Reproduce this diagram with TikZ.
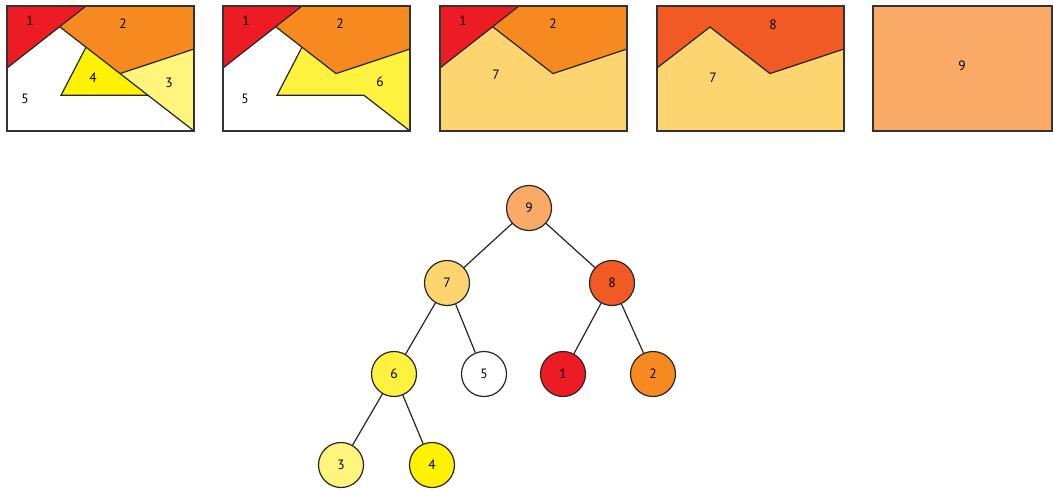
\documentclass[tikz,border=0pt]{standalone}
\usepackage{fontspec}
\setmainfont{PT Sans}
\definecolor{cA}{HTML}{ED1C24}
\definecolor{cB}{HTML}{F6891F}
\definecolor{cC}{HTML}{FFF47C}
\definecolor{cD}{HTML}{FFF200}
\definecolor{cF}{HTML}{FFF23F}
\definecolor{cG}{HTML}{FDD570}
\definecolor{cH}{HTML}{F15A24}
\definecolor{cI}{HTML}{F9AA66}
\begin{document}
\begin{tikzpicture}[x=1pt,y=-1pt,
  edgeln/.style={line width=1.2pt,draw=black!85},
  frame/.style={line width=1.2pt,draw=black!80},
  lbl/.style={font=\fontsize{13.5}{15}\selectfont,inner sep=0pt},
  tn/.style={circle,draw=black!85,line width=1.2pt,minimum size=45pt,inner sep=0pt,font=\fontsize{13.5}{15}\selectfont}]
\useasboundingbox (0,0) rectangle (1053,490);
% Panel 1
\begin{scope}
\fill[white] (7,6) rectangle (194,131);
\fill[cA] (7,6) -- (86,6) -- (60,27) -- (7,68) -- cycle;
\fill[cB] (86,6) -- (194,6) -- (194,49) -- (120,73.6) -- (60,27) -- cycle;
\fill[cC] (120,73.6) -- (194,49) -- (194,131) -- cycle;
\fill[cD] (86,47.2) -- (61,95.3) -- (148,95.3) -- cycle;
\draw[edgeln] (7,68) -- (86,6);
\draw[edgeln] (60,27) -- (194,131);
\draw[edgeln] (120,73.6) -- (194,49);
\draw[edgeln] (86,47.2) -- (61,95.3) -- (148,95.3);
\draw[frame] (7,6) rectangle (194,131);
\node[lbl] (p1a) at (30,21) {1};
\node[lbl] (p1b) at (123,24) {2};
\node[lbl] (p1c) at (169,83) {3};
\node[lbl] (p1d) at (93,78) {4};
\node[lbl] (p1e) at (25,99) {5};
\end{scope}
% Panel 2
\begin{scope}[xshift=216pt]
\fill[white] (7,6) rectangle (194,131);
\fill[cA] (7,6) -- (86,6) -- (60,27) -- (7,68) -- cycle;
\fill[cB] (86,6) -- (194,6) -- (194,49) -- (120,73.6) -- (60,27) -- cycle;
\fill[cF] (86,47.2) -- (120,73.6) -- (194,49) -- (194,131) -- (148,95.3) -- (61,95.3) -- cycle;
\draw[edgeln] (7,68) -- (86,6);
\draw[edgeln] (60,27) -- (120,73.6) -- (194,49);
\draw[edgeln] (86,47.2) -- (61,95.3) -- (148,95.3) -- (194,131);
\draw[frame] (7,6) rectangle (194,131);
\node[lbl] (p2a) at (30,21) {1};
\node[lbl] (p2b) at (124,24) {2};
\node[lbl] (p2e) at (29,99) {5};
\node[lbl] (p2f) at (164,82) {6};
\end{scope}
% Panel 3
\begin{scope}[xshift=433pt]
\fill[cG] (7,6) rectangle (194,131);
\fill[cA] (7,6) -- (86,6) -- (60,27) -- (7,68) -- cycle;
\fill[cB] (86,6) -- (194,6) -- (194,49) -- (120,73.6) -- (60,27) -- cycle;
\draw[edgeln] (7,68) -- (86,6);
\draw[edgeln] (60,27) -- (120,73.6) -- (194,49);
\draw[frame] (7,6) rectangle (194,131);
\node[lbl] (p3a) at (30,21) {1};
\node[lbl] (p3b) at (120,24) {2};
\node[lbl] (p3g) at (63,75) {7};
\end{scope}
% Panel 4
\begin{scope}[xshift=650pt]
\fill[cG] (7,6) rectangle (194,131);
\fill[cH] (7,6) -- (194,6) -- (194,49) -- (120,73.6) -- (60,27) -- (7,68) -- cycle;
\draw[edgeln] (7,68) -- (60,27) -- (120,73.6) -- (194,49);
\draw[frame] (7,6) rectangle (194,131);
\node[lbl] (p4h) at (123,25) {8};
\node[lbl] (p4g) at (63,78) {7};
\end{scope}
% Panel 5
\fill[cI] (873,6) rectangle (1052,131);
\draw[frame] (873,6) rectangle (1052,131);
\node[lbl] (p5i) at (962,66) {9};
% Tree
\node[tn,fill=cI] (t9) at (529,208) {9};
\node[tn,fill=cG] (t7) at (447,283) {7};
\node[tn,fill=cH] (t8) at (612,283) {8};
\node[tn,fill=cF] (t6) at (394,374) {6};
\node[tn,fill=white] (t5) at (484,374) {5};
\node[tn,fill=cA] (t1) at (563,374) {1};
\node[tn,fill=cB] (t2) at (653,374) {2};
\node[tn,fill=cC] (t3) at (341,465) {3};
\node[tn,fill=cD] (t4) at (432,465) {4};
\draw[edgeln] (t9) -- (t7);
\draw[edgeln] (t9) -- (t8);
\draw[edgeln] (t7) -- (t6);
\draw[edgeln] (t7) -- (t5);
\draw[edgeln] (t8) -- (t1);
\draw[edgeln] (t8) -- (t2);
\draw[edgeln] (t6) -- (t3);
\draw[edgeln] (t6) -- (t4);
\end{tikzpicture}
\end{document}
